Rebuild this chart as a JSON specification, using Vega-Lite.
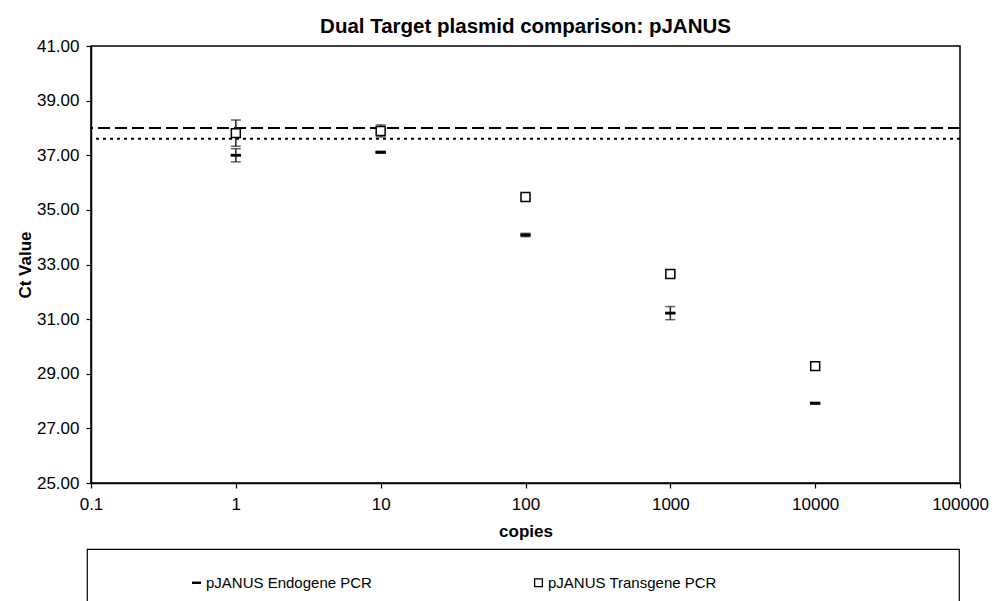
{
  "$schema": "https://vega.github.io/schema/vega-lite/v6.json",
  "autosize": {"type": "none"},
  "width": 869,
  "height": 437,
  "padding": {"left": 91, "top": 46, "right": 38, "bottom": 118},
  "background": "white",
  "title": {"text": "Dual Target plasmid comparison: pJANUS", "font": "Liberation Sans", "fontSize": 20.5, "fontWeight": "bold", "color": "black", "offset": 0, "anchor": "middle"},
  "datasets": {
    "pts": [
      {"copies": 1, "series": "pJANUS Endogene PCR", "ct": 37.0, "lo": 36.76, "hi": 37.24},
      {"copies": 10, "series": "pJANUS Endogene PCR", "ct": 37.11, "lo": 37.08, "hi": 37.14},
      {"copies": 100, "series": "pJANUS Endogene PCR", "ct": 34.08, "lo": 34.02, "hi": 34.14},
      {"copies": 1000, "series": "pJANUS Endogene PCR", "ct": 31.22, "lo": 30.98, "hi": 31.46},
      {"copies": 10000, "series": "pJANUS Endogene PCR", "ct": 27.92, "lo": 27.89, "hi": 27.95},
      {"copies": 1, "series": "pJANUS Transgene PCR", "ct": 37.81, "lo": 37.33, "hi": 38.29},
      {"copies": 10, "series": "pJANUS Transgene PCR", "ct": 37.89, "lo": 37.67, "hi": 38.11},
      {"copies": 100, "series": "pJANUS Transgene PCR", "ct": 35.47, "lo": 35.37, "hi": 35.57},
      {"copies": 1000, "series": "pJANUS Transgene PCR", "ct": 32.65, "lo": 32.6, "hi": 32.7},
      {"copies": 10000, "series": "pJANUS Transgene PCR", "ct": 29.28, "lo": 29.25, "hi": 29.31}
    ]
  },
  "config": {
    "view": {"stroke": "black", "strokeWidth": 1.5},
    "axis": {"grid": false, "domainColor": "black", "domainWidth": 1.5, "tickColor": "black", "tickWidth": 1.2, "tickSize": 5, "labelColor": "black", "titleColor": "black", "labelFont": "Liberation Sans", "titleFont": "Liberation Sans", "labelFontSize": 17, "titleFontSize": 17, "titleFontWeight": "bold"},
    "legend": {
      "orient": "none", "legendX": -4, "legendY": 503, "direction": "horizontal", "columns": 2,
      "strokeColor": "black", "strokeWidth": 1.2, "padding": 26, "fillColor": "white",
      "labelFont": "Liberation Sans", "labelFontSize": 15, "labelColor": "black", "labelLimit": 0,
      "titleOrient": "right", "titlePadding": 216, "titleFontSize": 10,
      "columnPadding": 83, "symbolSize": 60, "symbolStrokeWidth": 1.3, "symbolOffset": 76, "labelOffset": 2
    }
  },
  "layer": [
    {
      "data": {"values": [{"ct": 38.0}]},
      "mark": {"type": "rule", "color": "black", "strokeWidth": 2, "strokeDash": [12, 5]},
      "encoding": {"y": {"field": "ct", "type": "quantitative", "scale": {"domain": [25, 41], "nice": false, "zero": false}, "axis": {"title": "Ct Value"}}}
    },
    {
      "data": {"values": [{"ct": 37.6}]},
      "mark": {"type": "rule", "color": "black", "strokeWidth": 2, "strokeDash": [3, 4]},
      "encoding": {"y": {"field": "ct", "type": "quantitative", "axis": {"title": "Ct Value"}}}
    },
    {
      "data": {"name": "pts"},
      "mark": {"type": "errorbar", "color": "#222", "thickness": 1.5, "ticks": {"size": 10, "color": "#222", "thickness": 1.5}},
      "encoding": {
        "x": {"field": "copies", "type": "quantitative", "scale": {"type": "log", "domain": [0.1, 100000], "nice": false}, "axis": {"title": "copies", "values": [0.1, 1, 10, 100, 1000, 10000, 100000], "format": "~g", "labelPadding": 8, "titlePadding": 11, "labelFlush": false}},
        "y": {"field": "lo", "type": "quantitative", "axis": {"title": "Ct Value"}},
        "y2": {"field": "hi"}
      }
    },
    {
      "data": {"name": "pts"},
      "transform": [{"filter": "datum.series == 'pJANUS Transgene PCR'"}],
      "mark": {"type": "point", "shape": "square", "filled": true, "color": "white", "size": 80, "opacity": 1},
      "encoding": {
        "x": {"field": "copies", "type": "quantitative"},
        "y": {"field": "ct", "type": "quantitative", "axis": {"title": "Ct Value"}}
      }
    },
    {
      "data": {"name": "pts"},
      "mark": {"type": "point", "filled": false, "color": "black", "strokeWidth": 1.5, "size": 80, "opacity": 1},
      "encoding": {
        "x": {"field": "copies", "type": "quantitative", "axis": {"title": "copies", "values": [0.1, 1, 10, 100, 1000, 10000, 100000], "format": "~g", "labelPadding": 8, "titlePadding": 11, "labelFlush": false}},
        "y": {"field": "ct", "type": "quantitative", "axis": {"title": "Ct Value", "values": [25, 27, 29, 31, 33, 35, 37, 39, 41], "format": ".2f", "labelPadding": 7, "titlePadding": 2}},
        "shape": {"field": "series", "type": "nominal", "scale": {"domain": ["pJANUS Endogene PCR", "pJANUS Transgene PCR"], "range": ["M-1,-0.15H1V0.15H-1Z", "square"]}, "legend": {"title": " "}}
      }
    }
  ]
}
